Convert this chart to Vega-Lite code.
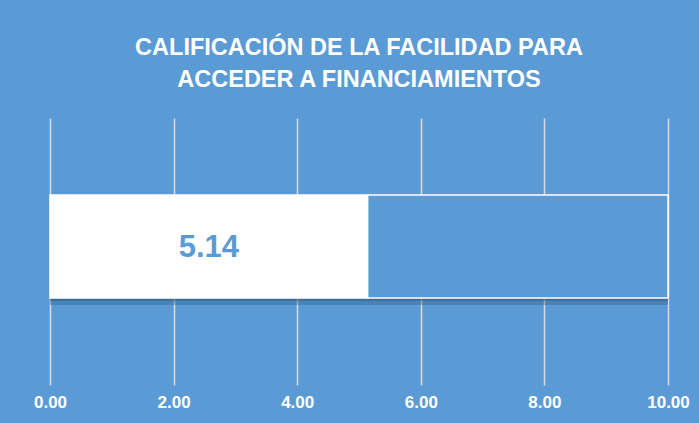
{
  "$schema": "https://vega.github.io/schema/vega-lite/v6.json",
  "width": 618,
  "height": 267,
  "autosize": {"type": "none"},
  "padding": {"left": 50, "top": 118, "right": 31, "bottom": 38},
  "background": "#5B9BD5",
  "title": {
    "text": ["CALIFICACIÓN DE LA FACILIDAD PARA", "ACCEDER A FINANCIAMIENTOS"],
    "color": "white",
    "font": "Liberation Sans",
    "fontSize": 23.5,
    "fontWeight": "bold",
    "lineHeight": 32,
    "anchor": "middle",
    "offset": 27
  },
  "data": {
    "values": [
      {"category": "Facilidad", "segment": "Calificación", "start": 0, "end": 5.14, "label": "5.14"},
      {"category": "Facilidad", "segment": "Resto", "start": 5.14, "end": 10, "label": ""}
    ]
  },
  "encoding": {
    "y": {
      "field": "category",
      "type": "nominal",
      "axis": null,
      "scale": {"paddingInner": 0, "paddingOuter": 0.796, "align": 0.47}
    }
  },
  "layer": [
    {
      "mark": {"type": "bar", "color": "#2A5580", "opacity": 0.35, "yOffset": 7},
      "encoding": {
        "x": {"field": "start", "type": "quantitative"},
        "x2": {"field": "end"}
      }
    },
    {
      "mark": {"type": "bar", "color": "#2A5580", "opacity": 0.4, "yOffset": 3},
      "encoding": {
        "x": {"field": "start", "type": "quantitative"},
        "x2": {"field": "end"}
      }
    },
    {
      "mark": {"type": "bar", "stroke": "white", "strokeWidth": 1.5},
      "encoding": {
        "x": {
          "field": "start",
          "type": "quantitative",
          "scale": {"domain": [0, 10], "nice": false},
          "axis": {
            "values": [0, 2, 4, 6, 8, 10],
            "format": ".2f",
            "title": null,
            "domain": false,
            "ticks": false,
            "labelFlush": false,
            "labelColor": "white",
            "labelFont": "Liberation Sans",
            "labelFontSize": 17,
            "labelFontWeight": "bold",
            "labelPadding": 9,
            "gridColor": "#D9D9D9",
            "gridWidth": 1.5,
            "gridOpacity": 1
          }
        },
        "x2": {"field": "end"},
        "color": {
          "field": "segment",
          "type": "nominal",
          "scale": {"domain": ["Calificación", "Resto"], "range": ["#FFFFFF", "#5B9BD5"]},
          "legend": null
        }
      }
    },
    {
      "transform": [
        {"filter": "datum.segment === 'Calificación'"},
        {"calculate": "(datum.start + datum.end) / 2", "as": "mid"}
      ],
      "mark": {
        "type": "text",
        "color": "#5B9BD5",
        "font": "Liberation Sans",
        "fontSize": 31,
        "fontWeight": "bold",
        "align": "center",
        "baseline": "middle",
        "dy": 1
      },
      "encoding": {
        "x": {"field": "mid", "type": "quantitative"},
        "text": {"field": "label"}
      }
    }
  ],
  "config": {"view": {"stroke": null}}
}
